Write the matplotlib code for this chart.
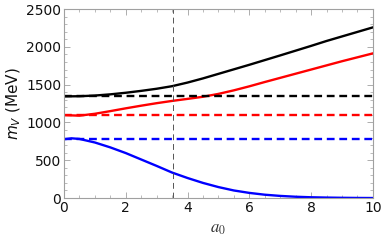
import matplotlib
matplotlib.use("Agg")
import matplotlib.pyplot as plt
from matplotlib.ticker import MultipleLocator

a0 = [0, 0.5, 1, 1.5, 2, 2.5, 3, 3.5, 4, 4.5, 5, 5.5, 6, 6.5, 7, 7.5, 8, 8.5, 9, 9.5, 10]
m_black = [1345, 1347, 1356, 1372, 1393, 1418, 1446, 1480, 1528, 1583, 1643, 1703, 1763, 1825, 1887, 1950, 2013, 2078, 2138, 2198, 2258]
m_red = [1097, 1090, 1115, 1150, 1187, 1222, 1255, 1285, 1312, 1340, 1378, 1425, 1478, 1535, 1590, 1645, 1700, 1755, 1810, 1862, 1914]
a0_blue = [0, 0.25, 0.5, 1, 1.5, 2, 2.5, 3, 3.5, 4, 4.5, 5, 5.5, 6, 6.5, 7, 7.5, 8, 8.5, 9, 9.5, 10]
m_blue = [778, 790, 782, 735, 670, 595, 510, 425, 337, 265, 200, 145, 100, 68, 44, 28, 17, 10, 6, 3, 1, 0]
ref_black = 1345
ref_red = 1100
ref_blue = 776
a0_mark = 3.52

fig = plt.figure(figsize=(3.82, 2.46), dpi=100)
ax = fig.add_axes([0.1675, 0.195, 0.8085, 0.768])

lw = 1.7
ax.plot(a0, m_black, color='black', lw=lw)
ax.plot(a0, m_red, color='#ff0000', lw=lw)
ax.plot(a0_blue, m_blue, color='#0000ff', lw=lw)
ax.axhline(ref_black, color='black', lw=lw, ls=(0, (3.3, 2)))
ax.axhline(ref_red, color='#ff0000', lw=lw, ls=(0, (3.3, 2)))
ax.axhline(ref_blue, color='#0000ff', lw=lw, ls=(0, (3.3, 2)))
ax.axvline(a0_mark, color='#555555', lw=0.7, ls=(0, (6, 4)))

ax.set_xlim(0, 10)
ax.set_ylim(0, 2500)
ax.xaxis.set_major_locator(MultipleLocator(2))
ax.xaxis.set_minor_locator(MultipleLocator(0.5))
ax.yaxis.set_major_locator(MultipleLocator(500))
ax.yaxis.set_minor_locator(MultipleLocator(100))
for s in ax.spines.values():
    s.set_color('#a0a0a0')
    s.set_linewidth(0.8)
ax.tick_params(which='both', direction='in', top=True, right=True, color='#a0a0a0', labelsize=10, labelcolor='#111111')
ax.tick_params(which='major', length=4, width=0.6)
ax.tick_params(which='minor', length=2, width=0.5)
ax.tick_params(axis='x', pad=2)
ax.tick_params(axis='y', pad=2)

ax.set_xlabel(r'$a_0$', fontsize=12, color='#333333', labelpad=3, math_fontfamily='stix')
ax.set_ylabel(r'$m_V$ (MeV)', fontsize=11, color='#111111', labelpad=2, math_fontfamily='dejavusans')

fig.savefig('out.png', dpi=100)
